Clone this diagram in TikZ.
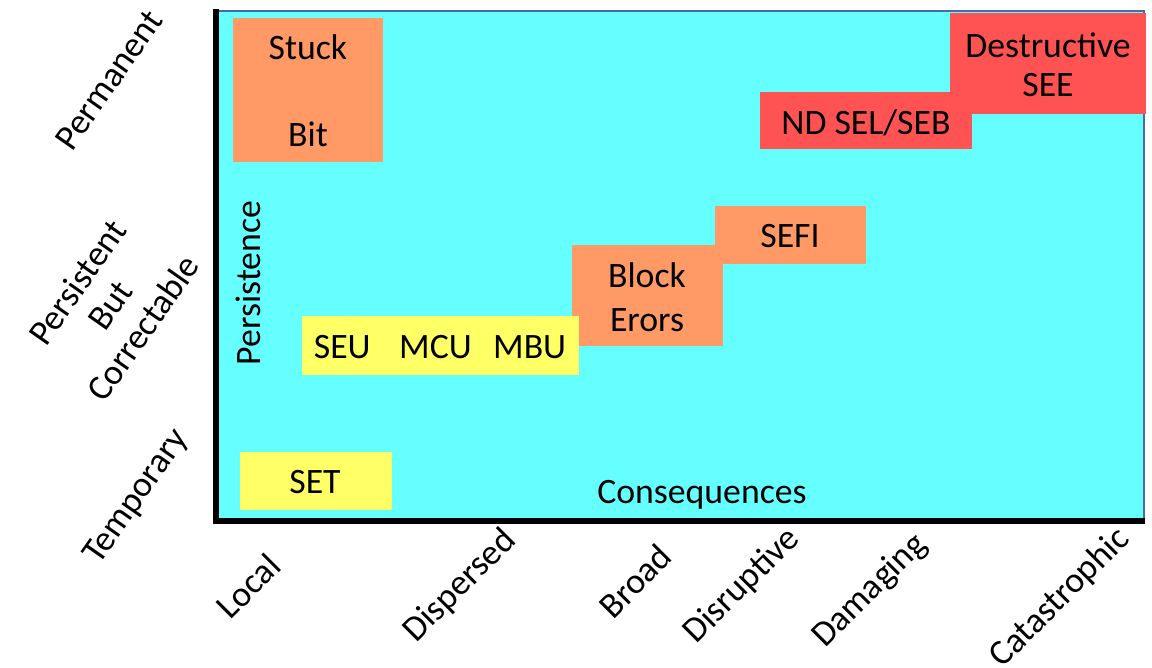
\documentclass[tikz,border=0pt]{standalone}
\usepackage{fontspec}
\setmainfont{Carlito}
\definecolor{bgcyan}{HTML}{66FFFF}
\definecolor{boxorange}{HTML}{FF9966}
\definecolor{boxred}{HTML}{FF5353}
\definecolor{boxyellow}{HTML}{FFFF66}
\definecolor{frameblue}{HTML}{4A6AA8}
\begin{document}
\begin{tikzpicture}[x=0.75pt,y=-0.75pt,
  every node/.style={font=\fontsize{26.8}{32}\selectfont, inner sep=0pt},
  evbox/.style={anchor=north west, align=center},
  ylab/.style={rotate=55, align=center, font=\fontsize{26.8}{30}\selectfont},
  xlab/.style={rotate=45}]
\useasboundingbox (0,0) rectangle (1152,667);
% background field
\fill[bgcyan] (217,11) rectangle (1144,521);
\draw[frameblue, line width=1.2pt] (217,11) -- (1144,11) -- (1144,521);
% event boxes
\fill[boxorange] (233,18) rectangle (383,162);
\node (stuck) at (308,47) {Stuck};
\node (bit) at (308,134) {Bit};
\fill[boxred] (950,13) rectangle (1146,114);
\fill[boxred] (760,92) rectangle (972,149);
\node[align=center] (dsee) at (1048,65) {Destructive\\[-0.1em]SEE};
\node (ndsel) at (866,123) {ND SEL/SEB};
\fill[boxorange] (715,206) rectangle (866,264);
\fill[boxorange] (572,245) rectangle (723,346);
\node (sefi) at (790,236) {SEFI};
\node[align=center] (block) at (647,297) {Block\\[0.05em]Erors};
\fill[boxyellow] (302,316) rectangle (579,375);
\node (seu) at (440,347) {SEU\hspace{0.8em}MCU\hspace{0.6em}MBU};
\fill[boxyellow] (240,452) rectangle (392,510);
\node (set) at (315,482) {SET};
% axes
\coordinate (origin) at (216,521);
\coordinate (ytop) at (216,9);
\coordinate (xend) at (1145,521);
\draw[black, line width=4pt] (ytop) -- (origin) -- (xend);
% axis titles
\node[rotate=90] (pers) at (248,283) {Persistence};
\node (cons) at (702,495) {Consequences};
% y labels
\node[ylab] (perm) at (109,80) {Permanent};
\node[ylab] (pbc) at (110,305) {Persistent\\But\\Correctable};
\node[ylab] (temp) at (137,497) {Temporary};
% x labels
\node[xlab] (local) at (248,586) {Local};
\node[xlab] (disp) at (460,586) {Dispersed};
\node[xlab] (broad) at (635,581) {Broad};
\node[xlab] (disr) at (742,586) {Disruptive};
\node[xlab] (dam) at (870,591) {Damaging};
\node[xlab] (cat) at (1060,598) {Catastrophic};
\end{tikzpicture}
\end{document}
